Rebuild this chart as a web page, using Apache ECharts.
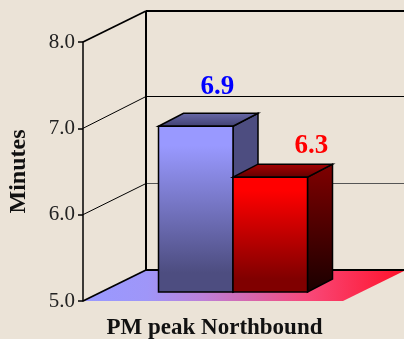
<!DOCTYPE html>
<html><head><meta charset="utf-8">
<style>html,body{margin:0;padding:0;background:#EBE3D7}#c{width:404px;height:339px}</style>
<script src="https://cdn.jsdelivr.net/npm/echarts@6/dist/echarts.min.js"></script>
</head><body><div id="c"></div>
<script>
const categories = ['PM peak Northbound'];
const yTicks = [5, 6, 7, 8];
const seriesNames = ['Blue', 'Red'];
const blueValues = [6.92];
const redValues = [6.33];

const DX = 63, DY = -31;       // wall depth
const BX = 20, BY = -9;        // bar front offset inside the depth
const FX = 25, FY = -13;       // bar depth
const BAR_W = 74.5;
const FONT = '"Liberation Serif","Times New Roman",serif';
const G = c => ({type:'linear',x:0,y:0,x2:0,y2:1,colorStops:c});

function renderWall(params, api) {
  const v = api.value(1);
  const py = api.coord([0, v])[1];
  const cs = params.coordSys;
  const left = cs.x, right = cs.x + cs.width;
  const baseY = api.coord([0, 5])[1];
  const heavy = v === 8 || v === 5;
  const ch = [];
  if (v === 5) {
    ch.push({type:'polygon', shape:{points:[[left,baseY],[left+DX,baseY+DY],[right+DX,baseY+DY],[right,baseY]]},
      style:{fill:{type:'linear',x:0,y:0,x2:1,y2:0,colorStops:[
        {offset:0,color:'#9999FF'},{offset:0.2,color:'#9F96F8'},{offset:0.37,color:'#BC80D8'},
        {offset:0.7,color:'#F84878'},{offset:1,color:'#FF1028'}]}}});
  }
  const by = heavy ? Math.round(py + DY) : Math.floor(py + DY - 0.5) + 0.5;
  ch.push({type:'line', shape:{x1:left,y1:py,x2:left+DX,y2:by}, style:{stroke:'#000',lineWidth:heavy?1.8:1}});
  ch.push({type:'line', shape:{x1:left+DX,y1:by,x2:right+DX,y2:by}, style:{stroke:v===6?'#555':'#000',lineWidth:heavy?2:1}});
  if (v === 8) {
    ch.push({type:'line', shape:{x1:left+DX,y1:by,x2:left+DX,y2:baseY+DY}, style:{stroke:'#000',lineWidth:2}});
  }
  return {type:'group', children:ch};
}

function makeBar(side, cols, labelColor, labelDx, labelDy) {
  return function (params, api) {
    const c = api.coord([api.value(0), 5]);
    const t = api.coord([api.value(0), api.value(1)]);
    const x0 = c[0] + BX + (side < 0 ? -BAR_W : 0);
    const x1 = x0 + BAR_W;
    const y0 = t[1] + BY, y1 = c[1] + BY;
    const st = {stroke:'#000', lineWidth:1.5, lineJoin:'miter'};
    return {type:'group', children:[
      {type:'polygon', shape:{points:[[x1,y0],[x1+FX,y0+FY],[x1+FX,y1+FY],[x1,y1]]}, style:{...st, fill:G(cols.side)}},
      {type:'polygon', shape:{points:[[x0,y0],[x0+FX,y0+FY],[x1+FX,y0+FY],[x1,y0]]}, style:{...st, fill:G(cols.top)}},
      {type:'rect', shape:{x:x0,y:y0,width:BAR_W,height:y1-y0}, style:{...st, fill:G(cols.front)}},
      {type:'text', style:{text:api.value(1).toFixed(1), x:(x0+x1)/2+labelDx, y:y0+labelDy, align:'center', verticalAlign:'bottom',
        fill:labelColor, font:'bold 27px '+FONT}}
    ]};
  };
}
const S = (a,b)=>[{offset:0,color:a},{offset:1,color:b}];
const SS = (a,b)=>[{offset:0,color:a},{offset:0.12,color:a},{offset:0.88,color:b},{offset:1,color:b}];

const chart = echarts.init(document.getElementById('c'), null, {renderer:'canvas'});
chart.setOption({
  backgroundColor:'#EBE3D7',
  animation:false,
  grid:{left:83, top:42, width:260, height:259, containLabel:false, outerBoundsMode:'none'},
  xAxis:{type:'category', data:categories, axisLine:{show:false}, axisTick:{show:false},
    axisLabel:{margin:16, color:'#111', fontFamily:FONT, fontWeight:'bold', fontSize:23, padding:[0,0,0,3]}},
  yAxis:{type:'value', min:5, max:8, interval:1, name:'Minutes', nameLocation:'middle', nameGap:52,
    nameTextStyle:{color:'#111', fontFamily:FONT, fontWeight:'bold', fontSize:24, padding:[3,0,0,0]},
    splitLine:{show:false},
    axisLine:{show:true, lineStyle:{color:'#000', width:1.5}},
    axisTick:{show:true, length:5, lineStyle:{color:'#000', width:1.5}},
    axisLabel:{margin:8, color:'#222', fontFamily:FONT, fontSize:21, padding:[2,0,0,0], formatter:v=>v.toFixed(1)}},
  series:[
    {type:'custom', name:'Walls', silent:true, clip:false, z:1, coordinateSystem:'cartesian2d',
      data:yTicks.map(v=>[0,v]), encode:{x:0,y:1}, renderItem:renderWall},
    {type:'custom', name:seriesNames[0], clip:false, z:3, data:blueValues.map((v,i)=>[i,v]), encode:{x:0,y:1},
      renderItem:makeBar(-1,{front:SS('#9999FF','#4D4D80'),side:S('#4D4D80','#4D4D80'),top:S('#6A6AAA','#404070')},'#0000FF',21.5,-26)},
    {type:'custom', name:seriesNames[1], clip:false, z:4, data:redValues.map((v,i)=>[i,v]), encode:{x:0,y:1},
      renderItem:makeBar(1,{front:SS('#FF0000','#800000'),side:S('#800000','#1A0000'),top:S('#A80000','#600000')},'#FF0000',41,-18)}
  ]
});
</script></body></html>
